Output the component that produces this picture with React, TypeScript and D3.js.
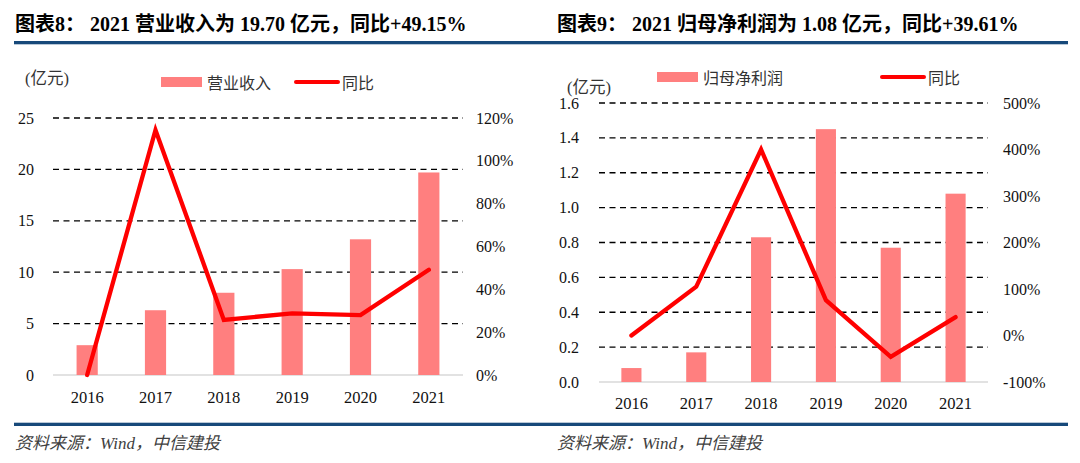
import { useEffect } from "react"
import * as d3 from "d3"

// data
const years = ["2016", "2017", "2018", "2019", "2020", "2021"]
const revenue = [2.9, 6.3, 8.0, 10.3, 13.2, 19.7]
const revenueYoY = [0, 114.4, 25.7, 28.8, 28.0, 49.15]
const netProfit = [0.08, 0.17, 0.83, 1.45, 0.77, 1.08]
const netProfitYoY = [0, 105, 400, 76, -46, 39.61]

const revenueTicks = [0, 5, 10, 15, 20, 25]
const revenueYoYTicks = [0, 20, 40, 60, 80, 100, 120]
const profitTicks = [0, 0.2, 0.4, 0.6, 0.8, 1.0, 1.2, 1.4, 1.6]
const profitYoYTicks = [-100, 0, 100, 200, 300, 400, 500]

const SERIF = "'Liberation Serif', 'Times New Roman', 'Noto Sans CJK SC', serif"
const SANS = "'Noto Sans CJK SC', 'Noto Sans', sans-serif"
const BAR = "#ff7f7f"
const LINE = "#ff0000"
const RULE = "#17497a"

type PanelProps = {
  title: string
  barName: string
  bars: number[]
  yoy: number[]
  leftTicks: number[]
  rightTicks: number[]
  leftFmt: (v: number) => string
  x0: number
  x1: number
  yTop: number
  yBottom: number
  leftLabelX: number
  rightLabelX: number
  unitX: number
  unitY: number
  legendY: number
  legendBarX: number
  legendLineX: number
  xLabelY: number
  titleX: number
}

function Panel(p: PanelProps) {
  const x = d3.scaleBand<string>()
    .domain(years)
    .range([p.x0, p.x1])
    .paddingInner(0.69)
    .paddingOuter(0.345)

  const yL = d3.scaleLinear()
    .domain(d3.extent(p.leftTicks) as [number, number])
    .range([p.yBottom, p.yTop])

  const yR = d3.scaleLinear()
    .domain(d3.extent(p.rightTicks) as [number, number])
    .range([p.yBottom, p.yTop])

  const line = d3.line<number>()
    .x((_, i) => x(years[i])! + x.bandwidth() / 2)
    .y(d => yR(d))

  return (
    <g>
      <text x={p.titleX} y={31} fontFamily={SERIF} fontWeight="bold" fontSize={20} fill="#000">
        {p.title}
      </text>

      {/* unit + legend */}
      <text x={p.unitX} y={p.unitY} dominantBaseline="central" fontFamily={SERIF} fontSize={16.5} fill="#333">(亿元)</text>
      <rect x={p.legendBarX} y={p.legendY - 5} width={41} height={10} fill={BAR} />
      <text x={p.legendBarX + 46} y={p.legendY} dominantBaseline="central" fontFamily={SANS} fontSize={16} fill="#333">{p.barName}</text>
      <line x1={p.legendLineX} x2={p.legendLineX + 42} y1={p.legendY} y2={p.legendY} stroke={LINE} strokeWidth={4} strokeLinecap="round" />
      <text x={p.legendLineX + 46} y={p.legendY} dominantBaseline="central" fontFamily={SANS} fontSize={16} fill="#333">同比</text>

      {/* grid */}
      {p.leftTicks.filter(t => t !== 0).map(t => (
        <line key={t} x1={p.x0} x2={p.x1} y1={yL(t)} y2={yL(t)} stroke="#000" strokeWidth={1.3} strokeDasharray="6,4.5" />
      ))}
      <line x1={p.x0} x2={p.x1} y1={yL(0)} y2={yL(0)} stroke="#d9d9d9" strokeWidth={1.5} />

      {/* left axis labels */}
      {p.leftTicks.map(t => (
        <text key={t} x={p.leftLabelX} y={yL(t)} textAnchor="end" dominantBaseline="central" fontFamily={SERIF} fontSize={16} fill="#111">
          {p.leftFmt(t)}
        </text>
      ))}
      {/* right axis labels */}
      {p.rightTicks.map(t => (
        <text key={t} x={p.rightLabelX} y={yR(t)} dominantBaseline="central" fontFamily={SERIF} fontSize={16} fill="#111">
          {t}%
        </text>
      ))}

      {/* bars */}
      {p.bars.map((v, i) => (
        <rect key={years[i]} x={x(years[i])} y={yL(v)} width={x.bandwidth()} height={yL(0) - yL(v)} fill={BAR} />
      ))}

      {/* x labels */}
      {years.map(yr => (
        <text key={yr} x={x(yr)! + x.bandwidth() / 2} y={p.xLabelY} textAnchor="middle" dominantBaseline="central" fontFamily={SERIF} fontSize={16.5} fill="#111">
          {yr}
        </text>
      ))}

      {/* yoy line */}
      <path d={line(p.yoy) || ""} fill="none" stroke={LINE} strokeWidth={4.3} strokeLinejoin="miter" strokeLinecap="round" />

      <text x={p.titleX} y={449} fontFamily={SERIF} fontStyle="italic" fontSize={17} fill="#404040">
        资料来源：Wind，中信建投
      </text>
    </g>
  )
}

export default function App() {
  useEffect(() => {
    document.body.style.margin = "0"
    document.body.style.background = "#fff"
  }, [])

  return (
    <svg width={1080} height={463} style={{ display: "block", background: "#fff" }}>
      <Panel
        title="图表8：  2021 营业收入为 19.70 亿元，同比+49.15%"
        barName="营业收入"
        bars={revenue}
        yoy={revenueYoY}
        leftTicks={revenueTicks}
        rightTicks={revenueYoYTicks}
        leftFmt={v => String(v)}
        x0={53} x1={463} yTop={118} yBottom={375}
        leftLabelX={34} rightLabelX={476}
        unitX={25} unitY={78}
        legendY={82} legendBarX={161} legendLineX={296}
        xLabelY={397}
        titleX={15}
      />
      <Panel
        title="图表9：  2021 归母净利润为 1.08 亿元，同比+39.61%"
        barName="归母净利润"
        bars={netProfit}
        yoy={netProfitYoY}
        leftTicks={profitTicks}
        rightTicks={profitYoYTicks}
        leftFmt={v => v.toFixed(1)}
        x0={599} x1={988} yTop={103} yBottom={382}
        leftLabelX={579} rightLabelX={1003}
        unitX={567} unitY={87}
        legendY={77} legendBarX={657} legendLineX={882}
        xLabelY={403}
        titleX={557}
      />
      <rect x={14} y={41} width={1054} height={3.3} fill={RULE} />
      <rect x={14} y={422.7} width={1054} height={3.3} fill={RULE} />
    </svg>
  )
}
